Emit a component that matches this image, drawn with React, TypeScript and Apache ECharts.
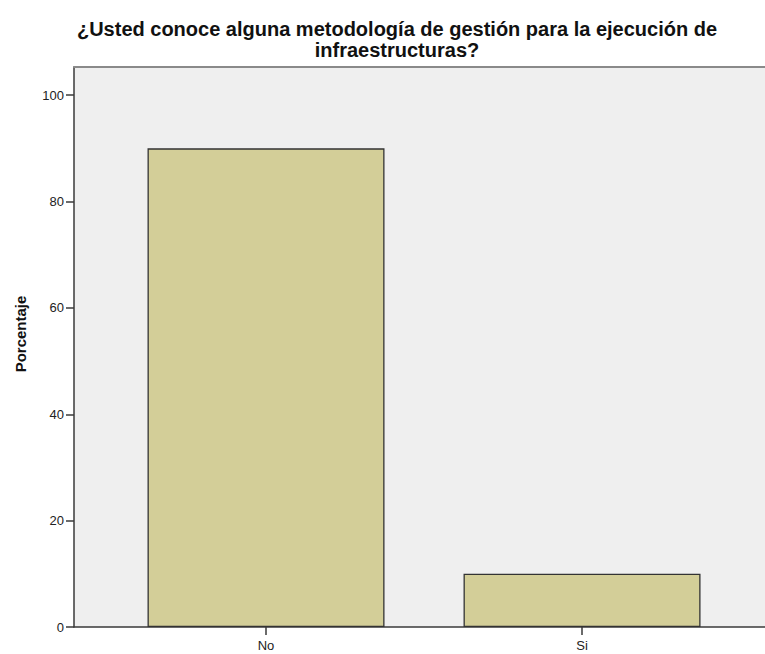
import React, { useEffect, useRef } from "react";
import * as echarts from "echarts";

const categories = ["No", "Si"];
const percentages = [90, 10];
const yTicks = [0, 20, 40, 60, 80, 100];
const titleText = "¿Usted conoce alguna metodología de gestión para la ejecución de\ninfraestructuras?";
const yAxisName = "Porcentaje";

export default function App() {
  const ref = useRef<HTMLDivElement>(null);
  useEffect(() => {
    const chart = echarts.init(ref.current!, null, { renderer: "svg" });
    const font = "'Liberation Sans', Arial, sans-serif";
    const xMin = -0.6076;
    const xMax = 1.579;
    chart.setOption({
      animation: false,
      backgroundColor: "#ffffff",
      title: {
        text: titleText,
        left: 392,
        top: 13,
        textAlign: "center",
        textStyle: {
          fontFamily: font,
          fontSize: 20,
          fontWeight: "bold",
          color: "#111111",
          lineHeight: 21,
          align: "center",
        },
      },
      graphic: [
        {
          type: "text",
          x: 20,
          y: 334,
          rotation: Math.PI / 2,
          style: {
            text: yAxisName,
            fontFamily: font,
            fontSize: 15,
            fontWeight: "bold",
            fill: "#111111",
            align: "center",
            verticalAlign: "middle",
          },
        },
      ],
      grid: {
        left: 74,
        top: 67,
        right: 0,
        bottom: 27,
        show: true,
        backgroundColor: "#efefef",
        borderWidth: 0,
      },
      xAxis: [
        {
          type: "value",
          min: xMin,
          max: xMax,
          position: "bottom",
          splitLine: { show: false },
          axisLine: { show: true, onZero: false, lineStyle: { color: "#3a3a3a", width: 1.5 } },
          axisTick: {
            show: true,
            customValues: [0, 1],
            length: 8,
            lineStyle: { color: "#3a3a3a", width: 1.5 },
          },
          axisLabel: {
            customValues: [0, 1],
            formatter: (v: number) => categories[Math.round(v)] ?? "",
            fontFamily: font,
            fontSize: 13,
            color: "#222222",
            margin: 12,
          },
        },
        {
          type: "value",
          min: xMin,
          max: xMax,
          position: "top",
          splitLine: { show: false },
          axisLine: { show: true, onZero: false, lineStyle: { color: "#8a8a8a", width: 2 } },
          axisTick: { show: false },
          axisLabel: { show: false },
        },
      ],
      yAxis: {
        type: "value",
        min: 0,
        max: 105.3,
        splitLine: { show: false },
        axisLine: { show: true, onZero: false, lineStyle: { color: "#3a3a3a", width: 1.5 } },
        axisTick: {
          show: true,
          customValues: yTicks,
          length: 8,
          lineStyle: { color: "#3a3a3a", width: 1.5 },
        },
        axisLabel: {
          customValues: yTicks,
          fontFamily: font,
          fontSize: 13,
          color: "#222222",
          margin: 10,
        },
      },
      series: [
        {
          type: "bar",
          xAxisIndex: 0,
          barWidth: 237,
          data: categories.map((c, i) => [i, percentages[i]]),
          itemStyle: {
            color: "#d3ce98",
            borderColor: "#333333",
            borderWidth: 1.3,
          },
        },
      ],
    });
    return () => chart.dispose();
  }, []);
  return (
    <div
      ref={ref}
      style={{ position: "absolute", left: 0, top: 0, width: 765, height: 654 }}
    />
  );
}
